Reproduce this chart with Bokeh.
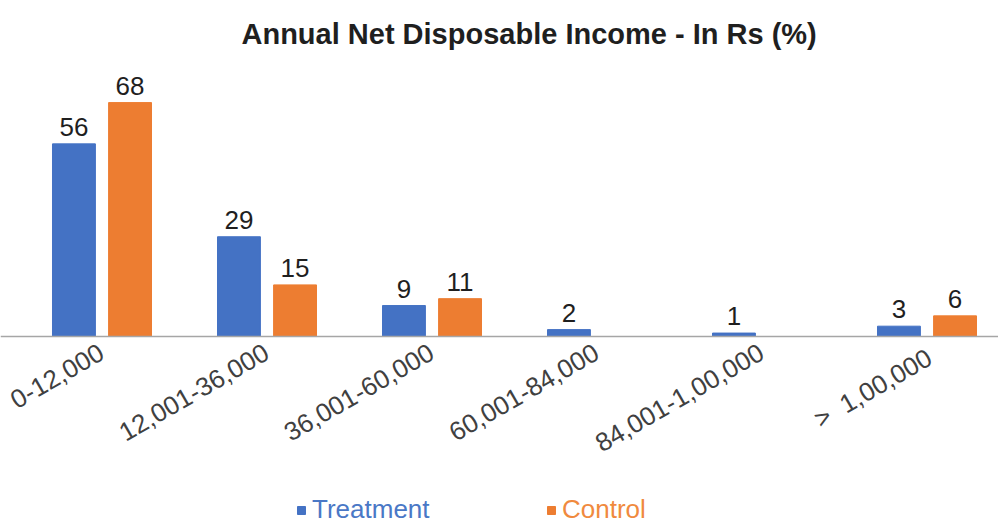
import numpy as np
from bokeh.plotting import figure
from bokeh.models import ColumnDataSource, Range1d, Legend, LegendItem, Span
from bokeh.core.properties import value
from bokeh.embed import file_html
from bokeh.resources import INLINE

categories = ["0-12,000", "12,001-36,000", "36,001-60,000", "60,001-84,000",
              "84,001-1,00,000", ">\u00a0 1,00,000"]
treatment = [56, 29, 9, 2, 1, 3]
control = [68, 15, 11, 0, 0, 6]

BLUE = "#4472C4"
ORANGE = "#ED7D31"
FONT = "Liberation Sans"

pos = np.arange(len(categories)) + 0.5
dodge = 0.17
bw = 0.26

src_t = ColumnDataSource(dict(x=pos - dodge, top=treatment, lab=[str(v) for v in treatment]))
src_c = ColumnDataSource(dict(x=pos + dodge, top=control, lab=[str(v) for v in control]))
ct_idx = [i for i, v in enumerate(control) if v > 0]
src_cl = ColumnDataSource(dict(x=[pos[i] + dodge for i in ct_idx],
                               top=[control[i] for i in ct_idx],
                               lab=[str(control[i]) for i in ct_idx]))
src_cat = ColumnDataSource(dict(x=pos, y=[0] * len(categories), lab=categories))

p = figure(width=998, height=524, output_backend="svg", toolbar_location=None,
           x_range=Range1d(-19 / 165, 979 / 165), y_range=Range1d(-54.65, 79.07),
           x_axis_location=None, y_axis_location=None,
           title="Annual Net Disposable Income - In Rs (%)",
           min_border_left=0, min_border_right=0, min_border_top=0, min_border_bottom=0)

p.title.align = "left"
p.title.offset = 241
p.title.text_font = FONT
p.title.text_font_size = "29px"
p.title.text_font_style = "bold"
p.title.text_color = "#1F1F1F"
p.title.standoff = 30

p.xgrid.visible = False
p.ygrid.visible = False
p.outline_line_color = None

p.add_layout(Span(location=0, dimension="width", line_color="#A6A6A6", line_width=1.5))

rt = p.vbar(x="x", top="top", width=bw, source=src_t, color=BLUE)
rc = p.vbar(x="x", top="top", width=bw, source=src_c, color=ORANGE)

for s in (src_t, src_cl):
    p.text(x="x", y="top", text="lab", source=s, text_align="center",
           text_baseline="alphabetic", y_offset=-17, text_font=value(FONT),
           text_font_size="26px", text_color="#1F1F1F")

p.text(x="x", y="y", text="lab", source=src_cat, angle=np.pi / 6,
       text_align="right", text_baseline="top", x_offset=-5, y_offset=6,
       text_font=value(FONT), text_font_size="26px", text_color="#404040")

for label, r, col, lx in (("Treatment", rt, "#4A78C6", 296), ("Control", rc, "#F08A3E", 546)):
    lg = Legend(items=[LegendItem(label=label, renderers=[r])], location=(lx, -1),
                padding=0, margin=0, spacing=0, border_line_color=None,
                background_fill_alpha=0, glyph_width=10, glyph_height=10,
                label_standoff=6, label_height=26, label_text_font=FONT,
                label_text_font_size="26px", label_text_color=col)
    p.add_layout(lg, "center")

open("out.html", "w").write(file_html(p, INLINE))
